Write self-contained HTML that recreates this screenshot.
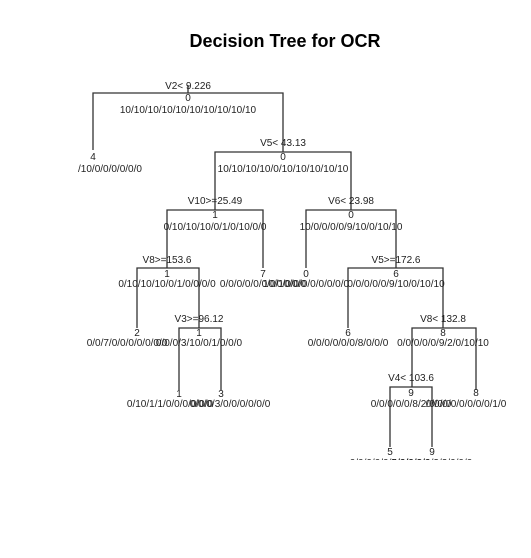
<!DOCTYPE html>
<html><head><meta charset="utf-8"><style>
html,body{margin:0;padding:0;background:#fff;}
svg{display:block;}
text{font-family:"Liberation Sans",Arial,sans-serif;font-size:10px;fill:#222;}
.t{font-size:18px;font-weight:bold;fill:#000;}
</style></head><body>
<svg width="531" height="558" viewBox="0 0 531 558" xmlns="http://www.w3.org/2000/svg">
<defs><clipPath id="c"><rect x="0" y="0" width="531" height="460"/></clipPath></defs>
<text class="t" x="285" y="47" text-anchor="middle">Decision Tree for OCR</text>
<g stroke="#333" stroke-width="1.3" fill="none">
<path d="M188 85V93M93 150V93H283V152"/>
<path d="M215 210V152H351V210"/>
<path d="M167 268V210H263V268"/>
<path d="M306 268V210H396V268"/>
<path d="M137 328V268H199V328"/>
<path d="M179 390V328H221V390"/>
<path d="M348 328V268H443V328"/>
<path d="M412 387V328H476V390"/>
<path d="M390 447V387H432V447"/>
</g>
<g text-anchor="middle">
<text x="188" y="89">V2&lt; 9.226</text>
<text x="188" y="101">0</text>
<text x="188" y="113">10/10/10/10/10/10/10/10/10/10</text>
<text x="93" y="160">4</text>
<text x="110" y="172">/10/0/0/0/0/0/0</text>
<text x="283" y="146">V5&lt; 43.13</text>
<text x="283" y="160">0</text>
<text x="283" y="172">10/10/10/10/0/10/10/10/10/10</text>
<text x="215" y="204">V10&gt;=25.49</text>
<text x="215" y="218">1</text>
<text x="215" y="230">0/10/10/10/0/1/0/10/0/0</text>
<text x="351" y="204">V6&lt; 23.98</text>
<text x="351" y="218">0</text>
<text x="351" y="230">10/0/0/0/0/9/10/0/10/10</text>
<text x="167" y="263">V8&gt;=153.6</text>
<text x="167" y="277">1</text>
<text x="167" y="287">0/10/10/10/0/1/0/0/0/0</text>
<text x="263" y="277">7</text>
<text x="263" y="287">0/0/0/0/0/0/0/10/0/0</text>
<text x="306" y="277">0</text>
<text x="306" y="287">10/0/0/0/0/0/0/0/0/0</text>
<text x="396" y="263">V5&gt;=172.6</text>
<text x="396" y="277">6</text>
<text x="396" y="287">0/0/0/0/0/9/10/0/10/10</text>
<text x="137" y="336">2</text>
<text x="127" y="346">0/0/7/0/0/0/0/0/0/0</text>
<text x="199" y="322">V3&gt;=96.12</text>
<text x="199" y="336">1</text>
<text x="199" y="346">0/0/0/3/10/0/1/0/0/0</text>
<text x="348" y="336">6</text>
<text x="348" y="346">0/0/0/0/0/0/8/0/0/0</text>
<text x="443" y="322">V8&lt; 132.8</text>
<text x="443" y="336">8</text>
<text x="443" y="346">0/0/0/0/0/9/2/0/10/10</text>
<text x="179" y="397">1</text>
<text x="170" y="407">0/10/1/1/0/0/0/0/0/0</text>
<text x="221" y="397">3</text>
<text x="230" y="407">0/0/0/3/0/0/0/0/0/0</text>
<text x="411" y="381">V4&lt; 103.6</text>
<text x="411" y="396">9</text>
<text x="411" y="407">0/0/0/0/0/8/2/0/0/0</text>
<text x="476" y="396">8</text>
<text x="466" y="407">0/0/0/0/0/0/0/0/1/0</text>
<text x="390" y="455">5</text>
<text x="432" y="455">9</text>
<g clip-path="url(#c)">
<text x="390" y="466">0/0/0/0/0/5/0/0/0/0</text>
<text x="432" y="466">0/0/0/0/0/3/2/0/0/0</text>
</g>
</g>
</svg>
</body></html>
